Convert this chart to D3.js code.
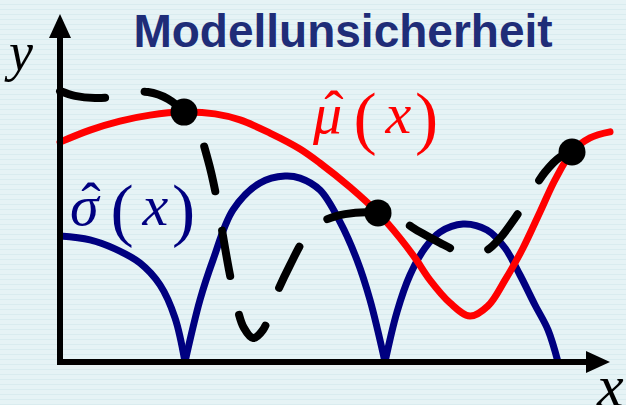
<!DOCTYPE html>
<html>
<head>
<meta charset="utf-8">
<script src="https://cdn.jsdelivr.net/npm/d3@7"></script>
<style>
  html, body { margin: 0; padding: 0; background: #e6f3f5; }
  svg { display: block; }
</style>
</head>
<body>
<script>
// Surrogate model mean  mu^(x)
const muX = [0, 6, 12, 18, 24.8, 31, 36, 42, 48, 52, 58, 63.6, 68, 71, 74, 78, 82, 85.6, 89, 92.6, 96, 99, 102.4, 106, 110];
const muY = [73.3, 77.3, 80.3, 82.3, 83.3, 82.7, 80.7, 76.3, 71, 66.3, 58.3, 49.7, 41.3, 34.7, 27.3, 19.7, 15.3, 18.7, 27.3, 38, 50, 60.7, 70, 74.7, 76.7];

// Model uncertainty  sigma^(x), one arc between each pair of zeros
const sigmaArcs = [
  { x: [0, 6, 11, 16, 20, 23, 25], y: [42, 40.7, 37.7, 33, 25.7, 14.7, 0] },
  { x: [25, 28, 30.6, 34.6, 40, 45, 48, 52, 56, 59.4, 62, 65], y: [0, 20.7, 34, 50.7, 59.7, 62, 61.3, 57.3, 46.7, 34, 20.7, 0] },
  { x: [65, 67.4, 70, 73, 76, 80.6, 85.4, 89, 92, 95, 97.6, 99.6], y: [0, 16.7, 29, 38, 43.3, 46, 44, 38, 29, 19, 10.7, 0] }
];

// True (unknown) function, drawn dashed
const trueX = [0, 3, 7, 10, 13.6, 17.6, 21.6, 24.8, 27.6, 29.6, 31.2, 32.4, 33.8, 35.2, 36.8, 38.6, 40.6, 43.2, 46, 49, 52.4, 57, 63.6, 68, 72, 76, 79.4, 82.4, 85.4, 88, 91, 94, 97, 100, 102.4];
const trueY = [90.3, 88.7, 88, 88.3, 89.7, 90, 87.7, 83.3, 77.3, 67.3, 55.7, 44, 30.7, 19.7, 11.3, 8, 10.7, 22.3, 32.3, 41.3, 46.7, 49.3, 49.7, 47.3, 43.3, 39.7, 37, 36, 37.3, 41.3, 48, 55.7, 63.3, 68.3, 70];

// Observed samples
const obsX = [24.8, 63.6, 102.4];
const obsY = [83.3, 49.7, 70];

const W = 626, H = 405;
const x = d3.scaleLinear().domain([0, 110]).range([60, 610]);
const y = d3.scaleLinear().domain([0, 110]).range([362, 32]);
const yTip = 116;   // top of the y-axis arrow

const svg = d3.select("body").append("svg")
  .attr("width", W).attr("height", H)
  .attr("viewBox", `0 0 ${W} ${H}`);

// Background with faint horizontal stripes
const defs = svg.append("defs");
const pat = defs.append("pattern")
  .attr("id", "stripes").attr("patternUnits", "userSpaceOnUse")
  .attr("width", 8).attr("height", 5);
pat.append("rect").attr("width", 8).attr("height", 5).attr("fill", "#e6f3f5");
pat.append("rect").attr("y", 4).attr("width", 8).attr("height", 1).attr("fill", "#d9ecef");
svg.append("rect").attr("width", W).attr("height", H).attr("fill", "url(#stripes)");

// Arrowhead marker
defs.append("marker")
  .attr("id", "arrow").attr("markerUnits", "userSpaceOnUse")
  .attr("viewBox", "0 0 24 24").attr("markerWidth", 24).attr("markerHeight", 24)
  .attr("refX", 4).attr("refY", 12).attr("orient", "auto-start-reverse")
  .append("path").attr("d", "M0,1 L24,12 L0,23 Z").attr("fill", "#000");

// Title
svg.append("text")
  .attr("x", 343).attr("y", 47)
  .attr("text-anchor", "middle")
  .attr("font-family", "Liberation Sans, Arial, sans-serif")
  .attr("font-weight", "bold").attr("font-size", 46)
  .attr("fill", "#1f2d78")
  .text("Modellunsicherheit");

const line = d3.line().x(d => x(d[0])).y(d => y(d[1])).curve(d3.curveCatmullRom.alpha(0.5));

// sigma^(x)
svg.append("g").selectAll("path").data(sigmaArcs).join("path")
  .attr("d", a => line(d3.zip(a.x, a.y)))
  .attr("fill", "none").attr("stroke", "#000080").attr("stroke-width", 7)
  .attr("stroke-linejoin", "round");

// mu^(x)
svg.append("path")
  .attr("d", line(d3.zip(muX, muY)))
  .attr("fill", "none").attr("stroke", "#ff0000").attr("stroke-width", 7)
  .attr("stroke-linecap", "round");

// true function
svg.append("path")
  .attr("d", line(d3.zip(trueX, trueY)))
  .attr("fill", "none").attr("stroke", "#000").attr("stroke-width", 8)
  .attr("stroke-linecap", "round").attr("stroke-dasharray", "46 40");

// Axes: one polyline from the y tip through the origin to the x tip
const axisPath = d3.path();
axisPath.moveTo(x(0), y(yTip) + 20);
axisPath.lineTo(x(0), y(0));
axisPath.lineTo(x(110) - 20, y(0));
svg.append("path")
  .attr("d", axisPath.toString())
  .attr("fill", "none").attr("stroke", "#000").attr("stroke-width", 6)
  .attr("stroke-linejoin", "miter")
  .attr("marker-start", "url(#arrow)").attr("marker-end", "url(#arrow)");

// Observations
svg.append("g").selectAll("circle").data(d3.zip(obsX, obsY)).join("circle")
  .attr("cx", d => x(d[0])).attr("cy", d => y(d[1])).attr("r", 13.5)
  .attr("fill", "#000");

// Axis labels
const serif = "Liberation Serif, Times New Roman, serif";
svg.append("text").attr("x", 9).attr("y", 70)
  .attr("font-family", serif).attr("font-style", "italic").attr("font-size", 54)
  .text("y");
svg.append("text").attr("x", 597).attr("y", 406)
  .attr("font-family", serif).attr("font-style", "italic").attr("font-size", 60)
  .text("x");

// Curve labels: hat-symbol ( x )
function mathLabel(g, sym, sx, baseline, color, size) {
  const t = g.append("g").attr("fill", color).attr("font-family", serif);
  t.append("text").attr("x", sx).attr("y", baseline)
    .attr("font-style", "italic").attr("font-size", size).text(sym);
  t.append("text").attr("x", sx + size * 0.36).attr("y", baseline - size * 0.05)
    .attr("text-anchor", "middle").attr("font-size", size).text("\u02C6");
  t.append("text").attr("x", sx + size * 0.7).attr("y", baseline + size * 0.14)
    .attr("font-size", size * 1.2).text("(");
  t.append("text").attr("x", sx + size * 1.25).attr("y", baseline)
    .attr("font-style", "italic").attr("font-size", size).text("x");
  t.append("text").attr("x", sx + size * 1.76).attr("y", baseline + size * 0.14)
    .attr("font-size", size * 1.2).text(")");
}
mathLabel(svg, "\u03BC", 313, 133, "#ff0000", 58);
mathLabel(svg, "\u03C3", 70, 225, "#000080", 58);
</script>
</body>
</html>
